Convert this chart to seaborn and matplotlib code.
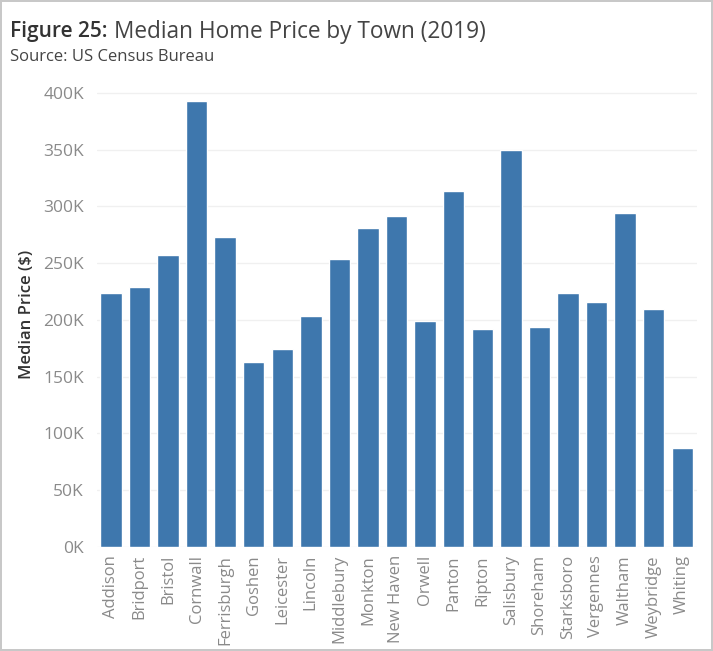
import numpy as np
import pandas as pd
import matplotlib
matplotlib.use("Agg")
import matplotlib.pyplot as plt
import seaborn as sns

towns = ["Addison", "Bridport", "Bristol", "Cornwall", "Ferrisburgh", "Goshen",
         "Leicester", "Lincoln", "Middlebury", "Monkton", "New Haven", "Orwell",
         "Panton", "Ripton", "Salisbury", "Shoreham", "Starksboro", "Vergennes",
         "Waltham", "Weybridge", "Whiting"]
prices = [224000, 229000, 257000, 393000, 273000, 163000,
          174000, 203000, 254000, 281000, 292000, 199000,
          314000, 192000, 350000, 194000, 224000, 216000,
          294000, 210000, 87000]
yticks = [0, 50000, 100000, 150000, 200000, 250000, 300000, 350000, 400000]
ytick_labels = ["0K", "50K", "100K", "150K", "200K", "250K", "300K", "350K", "400K"]

df = pd.DataFrame({"town": towns, "price": prices})

sns.set_style("white")
plt.rcParams["font.family"] = ["Open Sans", "DejaVu Sans"]

fig = plt.figure(figsize=(7.13, 6.51), dpi=100)
fig.patch.set_edgecolor("#c8c8c8")
fig.patch.set_linewidth(1.5)

ax = fig.add_axes([96.5 / 713, 1 - 546.7 / 651, 600 / 713, 465 / 651])
sns.barplot(data=df, x="town", y="price", color="#3e77ad", width=0.75,
            saturation=1, ax=ax)

ax.set_ylim(0, 410000)
ax.set_xlim(-0.5, len(towns) - 0.5)
ax.set_yticks(yticks)
ax.set_yticklabels(ytick_labels)
ax.yaxis.grid(True, color="#f0f0f0", linewidth=1)
ax.set_axisbelow(True)
for s in ax.spines.values():
    s.set_visible(False)
ax.tick_params(axis="y", length=0, pad=9, labelsize=12.5, labelcolor="#8a8a8a")
ax.tick_params(axis="x", length=0, pad=6, labelsize=12, labelcolor="#8a8a8a",
               rotation=90)
ax.set_xlabel("")
ax.set_ylabel("Median Price ($)", fontsize=12, color="#333333", labelpad=6,
              fontweight="semibold")

# title in two parts: bold prefix then regular text right after it
t1 = fig.text(10 / 713, 1 - 32 / 651, "Figure 25:", fontsize=15, color="#333333",
              fontweight="semibold", va="center")
fig.canvas.draw()
bb = t1.get_window_extent()
fig.text((bb.x1 + 6) / 713, 1 - 32 / 651, "Median Home Price by Town (2019)",
         fontsize=16.3, color="#444444", va="center")
fig.text(10 / 713, 1 - 57 / 651, "Source: US Census Bureau", fontsize=12,
         color="#444444", va="center")

fig.savefig("out.png", dpi=100)
